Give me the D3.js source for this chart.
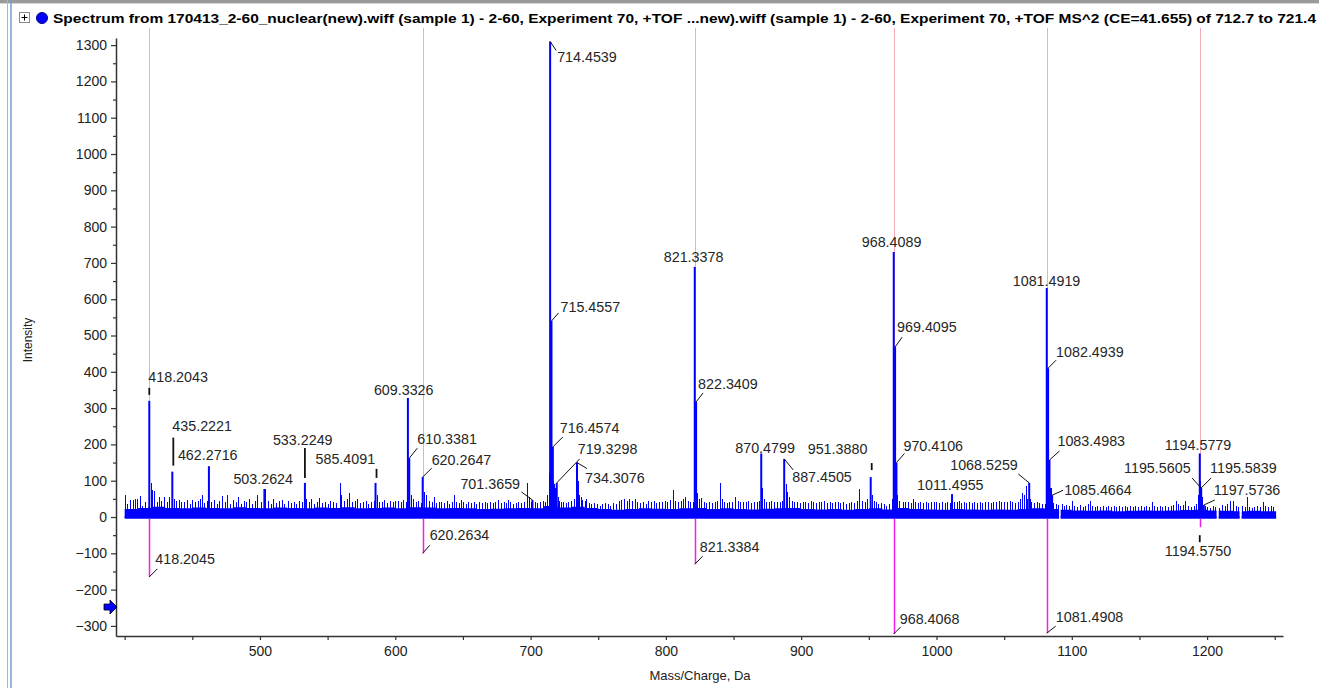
<!DOCTYPE html>
<html lang="en">
<head>
<meta charset="UTF-8" />
<title>Spectrum</title>
<script src="https://d3js.org/d3.v7.min.js"></script>
<style>
  body { margin: 0; background: #fff; }
  svg text { font-family: "Liberation Sans", Arial, sans-serif; }
</style>
</head>
<body>
<svg id="chart" width="1319" height="688"></svg>
<script>
// ---- data ----
let titleText = 'Spectrum from 170413_2-60_nuclear(new).wiff (sample 1) - 2-60, Experiment 70, +TOF ...new).wiff (sample 1) - 2-60, Experiment 70, +TOF MS^2 (CE=41.655) of 712.7 to 721.4'

// labelled peaks of the upper (sample) spectrum
let peakMz = [418.2043, 435.2221, 462.2716, 503.2624, 533.2249, 585.4091, 609.3326, 610.3381, 620.2647, 701.3659,
  714.4539, 715.4557, 716.4574, 719.3298, 734.3076, 821.3378, 822.3409, 870.4799, 887.4505, 951.3880,
  968.4089, 969.4095, 970.4106, 1011.4955, 1068.5259, 1081.4919, 1082.4939, 1083.4983, 1085.4664,
  1194.5779, 1195.5605, 1195.5839, 1197.5736]
let peakInt = [320, 125, 140, 77, 94, 94, 328, 162, 110, 47,
  1310, 540, 193, 94, 150, 689, 317, 175, 160, 110,
  730, 468, 150, 63, 94, 631, 410, 157, 60,
  175, 80, 80, 33]

// mirrored reference peaks (drawn below zero)
let refMz = [418.2045, 620.2634, 821.3384, 968.4068, 1081.4908, 1194.5750]
let refInt = [-165, -100, -130, -322, -320, -28]

// unlabelled small peaks [m/z, intensity]
let noisePeaks = [
  [400.5, 62], [402, 35], [404, 48], [406, 48], [407.5, 50], [409, 50], [411, 58], [413, 30], [415, 40], [417, 28],
  [419.5, 95], [420.5, 75], [422, 72], [424, 40], [425.5, 55], [427, 45], [429, 55], [431, 40], [433, 55], [436.5, 50],
  [438, 45], [440, 48], [442, 40], [444, 42], [446, 48], [448, 35], [450, 48], [452, 40], [454, 45], [456, 50],
  [457.5, 60], [459, 38], [461, 45], [464, 40], [466, 48], [468, 35], [470, 45], [472, 58], [474, 40], [476, 62],
  [478, 35], [480, 48], [482, 40], [484, 55], [486, 35], [488, 45], [490, 40], [492, 50], [494, 35], [496, 45], [498, 60],
  [501, 40], [504, 77], [506, 45], [508, 35], [510, 50], [512, 38], [514, 45], [516, 48], [518, 35], [521, 45],
  [523, 38], [525, 40], [527, 35], [529, 45], [531, 40], [534.2, 50], [536, 40], [538, 50], [540, 35], [542, 42],
  [544, 52], [546, 38], [548, 40], [550, 35], [552, 45], [554, 40], [556, 38], [559, 94], [560, 60], [562, 45],
  [564, 50], [566, 65], [568, 40], [570, 45], [572, 50], [574, 38], [576, 42], [578, 45], [580, 35], [582, 40],
  [584, 45], [586.5, 60], [588, 42], [590, 40], [592, 48], [594, 38], [596, 45], [598, 40], [600, 45],
  [602, 45], [604, 40], [606, 48], [608, 42], [609.9, 100], [611.5, 60], [613, 50], [615, 40], [617, 45], [619, 38],
  [621.5, 70], [623, 60], [625, 45], [627, 40], [628.5, 55], [630, 38], [632, 42], [634, 40], [636, 38], [638, 45],
  [640, 35], [642, 40], [643.5, 62], [645, 40], [647, 38], [648.5, 48], [650, 40], [652, 35], [654, 42], [656, 38],
  [658, 40], [660, 35], [662, 40], [664, 38], [666, 42], [668, 38], [670, 40], [672, 38], [674, 42], [676, 48],
  [678, 38], [680, 40], [682, 38], [683.5, 48], [685, 40], [687, 35], [689, 38], [691, 40], [693, 38], [695, 40],
  [697, 94], [698.5, 55], [700, 40], [703, 42], [705, 38], [707, 40], [709, 45], [711, 42],
  [712.5, 60], [713.6, 120], [714.0, 185], [714.8, 190], [715.0, 188], [715.8, 185], [716.0, 150], [716.8, 100],
  [717.2, 90], [717.8, 80], [718.4, 70], [720, 55], [721, 45], [722.5, 40],
  [724, 40], [726, 38], [728, 42], [730, 45], [732, 50], [733.5, 60], [734.8, 100], [735.5, 60], [737, 55], [738, 48],
  [740, 45], [741, 50], [743, 38], [745, 35], [747, 38], [749, 35], [751, 30], [753, 35], [755, 38], [757, 35],
  [759, 30], [761, 38], [763, 35], [765, 45], [767, 48], [769, 50], [771, 45], [773, 50], [775, 45], [777, 50],
  [779, 42], [781, 38], [783, 40], [785, 35], [787, 45], [789, 40], [791, 45], [793, 38], [795, 42], [797, 40], [799, 45],
  [801, 40], [803, 48], [805, 75], [807, 45], [809, 40], [811, 45], [813, 50], [814.5, 55], [816, 45], [818, 40],
  [820, 42], [823.3, 65], [824.5, 50], [826, 52], [828, 40], [830, 38], [832, 42], [834, 38], [836, 40], [838, 45],
  [840, 95], [841.5, 50], [843, 40], [845, 38], [847, 42], [849, 40], [851, 55], [853, 45], [855, 40], [857, 42],
  [859, 40], [861, 45], [863, 38], [865, 40], [867, 42], [869, 45], [871.3, 80], [872.5, 50], [874, 42], [876, 40],
  [878, 45], [880, 40], [882, 42], [884, 40], [886, 45], [888.5, 90], [889.5, 70], [891, 55], [893, 45], [895, 40],
  [897, 42], [899, 38],
  [901, 40], [903, 42], [905, 38], [907, 45], [909, 40], [911, 38], [913, 42], [915, 40], [917, 45], [919, 38],
  [921, 40], [923, 38], [925, 42], [927, 40], [929, 38], [931, 40], [933, 35], [935, 38], [937, 40], [939, 38],
  [941, 45], [943, 77], [945, 45], [947, 40], [949, 50], [950.5, 60], [952.4, 60], [953.5, 45], [955, 40], [957, 35],
  [959, 38], [961, 35], [963, 30], [965, 35], [967, 50], [970.9, 60], [972.5, 45], [975, 40], [977, 42], [979, 40],
  [981, 38], [982.5, 50], [984, 40], [986, 38], [988, 42], [990, 38], [992, 40], [994, 38], [996, 42], [998, 40],
  [1000, 40], [1002, 38], [1004, 42], [1006, 38], [1008, 40], [1010, 38], [1013, 40], [1015, 42], [1016.5, 45], [1018, 38],
  [1020, 40], [1022, 38], [1024, 40], [1026, 38], [1028, 42], [1030, 38], [1032, 40], [1034, 38], [1036, 42], [1038, 40],
  [1040, 38], [1042, 42], [1044, 40], [1046, 45], [1048, 42], [1050, 40], [1052, 42], [1054, 45], [1056, 40], [1058, 38],
  [1060, 40], [1062, 50], [1063.5, 65], [1065, 60], [1066.3, 85], [1067, 50], [1069, 50], [1070, 40], [1072, 38], [1074, 40],
  [1076, 38], [1078, 35], [1080, 35], [1080.6, 60], [1081.8, 200], [1082.8, 120], [1083.9, 80], [1084.4, 80],
  [1086, 38], [1088, 35], [1090, 32], [1092.5, 35], [1094, 30], [1096, 32], [1098, 30], [1100.5, 45], [1102, 30],
  [1104, 28], [1106, 32], [1108, 28], [1110, 30], [1112, 35], [1113.5, 45], [1115, 30], [1117, 28], [1119, 30], [1121, 28],
  [1123, 30], [1125, 28], [1127, 30], [1129, 28], [1131, 30], [1133, 28], [1135, 30], [1137, 28], [1139, 30], [1141, 28],
  [1143, 30], [1145, 28], [1147, 30], [1149, 28], [1151, 30], [1153, 28], [1155, 30], [1157, 28], [1159, 40], [1161, 30],
  [1163, 28], [1165, 30], [1167, 28], [1169, 30], [1171, 28], [1173, 30], [1175, 32], [1177, 45], [1178.5, 35], [1180, 30],
  [1182, 32], [1184, 45], [1186, 30], [1188, 28], [1190, 30], [1192, 35], [1193.5, 60], [1195, 100], [1196.3, 55], [1198.5, 30],
  [1200, 28], [1202, 25], [1204, 30], [1206, 28], [1209, 25], [1211, 32], [1213, 30], [1215, 35], [1217, 45], [1219, 45],
  [1221, 30], [1223, 28], [1226, 30], [1228, 28], [1229.5, 55], [1231, 28], [1233, 25], [1235, 28], [1237, 30], [1239, 28],
  [1241, 40], [1243, 30], [1245, 28], [1247, 30], [1249, 28]
]

// height of the dense noise band [m/z, intensity]
let noiseFloor = [
  [400, 22], [410, 25], [420, 28], [430, 25], [440, 24], [450, 26], [460, 25], [470, 24], [480, 27], [490, 25],
  [500, 24], [510, 26], [520, 25], [530, 24], [540, 26], [550, 25], [560, 27], [570, 24], [580, 25], [590, 26],
  [600, 24], [610, 27], [620, 26], [630, 24], [640, 25], [650, 24], [660, 22], [670, 23], [680, 24], [690, 25],
  [700, 24], [710, 30], [720, 26], [730, 28], [740, 25], [750, 22], [760, 20], [770, 22], [780, 24], [790, 23],
  [800, 22], [810, 24], [820, 25], [830, 22], [840, 24], [850, 22], [860, 21], [870, 23], [880, 24], [890, 25],
  [900, 22], [910, 21], [920, 22], [930, 20], [940, 22], [950, 24], [960, 21], [970, 25], [980, 22], [990, 21],
  [1000, 20], [1010, 22], [1020, 21], [1030, 20], [1040, 21], [1050, 20], [1060, 22], [1070, 24], [1080, 22], [1090, 20],
  [1100, 18], [1110, 17], [1120, 18], [1130, 16], [1140, 17], [1150, 18], [1160, 17], [1170, 18], [1180, 19], [1190, 20],
  [1200, 18], [1210, 17], [1220, 16], [1230, 17], [1240, 16], [1250, 16]
]
let dataRange = [400, 1251]
let baselineGaps = [[1090.6, 1091.8], [1207, 1208.6], [1224, 1225.6]]

let xTicks = [500, 600, 700, 800, 900, 1000, 1100, 1200]
let yTicks = [-300, -200, -100, 0, 100, 200, 300, 400, 500, 600, 700, 800, 900, 1000, 1100, 1200, 1300]
let markerLevel = -248

// label placement: [dx, dy, leader] in px, relative to the peak tip
let labelLayout = {
  '418.2043': [-1, -24, [0, -13, 0, -6]],
  '435.2221': [0, -46, [1, -34, 1, -6]],
  '462.2716': [-31, -11, null],
  '503.2624': [-31, -10, null],
  '533.2249': [-32, -43, [0, -35, 0, -5]],
  '585.4091': [-60, -24, [1, -14, 1, -5]],
  '609.3326': [-34, -8, null],
  '610.3381': [8, -19, [0, 0, 8, -10]],
  '620.2647': [9, -17, [0, 0, 9, -9]],
  '701.3659': [-72, -16, [0, 0, -11, -8]],
  '714.4539': [7, 15, [0, 0, 6, 9]],
  '715.4557': [9, -14, [0, 0, 7, -8]],
  '716.4574': [7, -19, [0, 0, 10, -10]],
  '719.3298': [21, -34, [0, 0, 23, -24]],
  '734.3076': [8, 15, [0, 0, 10, 6]],
  '821.3378': [-31, -10, null],
  '822.3409': [2, -18, [0, 0, 7, -9]],
  '870.4799': [-26, -6, null],
  '887.4505': [8, 18, [0, 0, 9, 11]],
  '951.3880': [-63, -28, [1, -14, 1, -7]],
  '968.4089': [-32, -10, null],
  '969.4095': [2, -20, [0, 0, 7, -10]],
  '970.4106': [7, -17, [0, 0, 8, -9]],
  '1011.4955': [-35, -9, null],
  '1068.5259': [-79, -18, [0, 0, -11, -9]],
  '1081.4919': [-34, -7, null],
  '1082.4939': [8, -16, [0, 0, 8, -8]],
  '1083.4983': [8, -19, [0, 0, 10, -9]],
  '1085.4664': [12, -5, [0, 0, 11, -5]],
  '1194.5779': [-35, -9, null],
  '1195.5605': [-77, -20, [0, 0, -9, -10]],
  '1195.5839': [9, -20, [0, 0, 10, -10]],
  '1197.5736': [10, -15, [0, 0, 11, -5]],
  '418.2045': [6, -18, [0, 0, 8, -8]],
  '620.2634': [7, -18, [0, 0, 7, -8]],
  '821.3384': [5, -17, [0, 0, 8, -8]],
  '968.4068': [6, -15, [0, 0, 7, -7]],
  '1081.4908': [9, -16, [0, 0, 9, -7]],
  '1194.5750': [-35, 24, [0, 8, 0, 15]]
}

// ---- drawing ----
let width = 1319
let height = 688
let blue = '#0000ff'
let fmt = d3.format('.4f')

let svg = d3.select('#chart')

let x = d3.scaleLinear().domain([393.6, 1256.1]).range([116, 1283])
let y = d3.scaleLinear().domain([-327.8, 1319.6]).range([636, 38])

// window frame
svg.append('rect').attr('x', 0).attr('y', 0).attr('width', width).attr('height', 3).attr('fill', '#9a9a9a')
svg.append('line').attr('x1', 0).attr('x2', width).attr('y1', 3.5).attr('y2', 3.5).attr('stroke', '#d8d8d8')
svg.append('line').attr('x1', 7.5).attr('x2', 7.5).attr('y1', 0).attr('y2', height).attr('stroke', '#b4b4b4')
svg.append('line').attr('x1', 11).attr('x2', 11).attr('y1', 0).attr('y2', height)
  .attr('stroke', '#6f9fd6').attr('stroke-width', 1.5)

// title row
svg.append('rect').attr('x', 19.5).attr('y', 12.5).attr('width', 10).attr('height', 10)
  .attr('fill', '#fff').attr('stroke', '#8a8a8a')
svg.append('path').attr('d', 'M21.5,17.5H27.5M24.5,14.5V20.5').attr('stroke', '#000')
svg.append('circle').attr('cx', 42).attr('cy', 18).attr('r', 5.5).attr('fill', blue).attr('stroke', '#00008a')
svg.append('text')
  .attr('x', 53).attr('y', 23)
  .attr('font-size', 13.5).attr('font-weight', 'bold').attr('fill', '#000')
  .attr('textLength', 1263).attr('lengthAdjust', 'spacingAndGlyphs')
  .text(titleText)

// pink guide lines at the reference peak positions
svg.append('g').selectAll('line').data(refMz).enter().append('line')
  .attr('x1', d => Math.round(x(d)) + 0.5).attr('x2', d => Math.round(x(d)) + 0.5)
  .attr('y1', 28).attr('y2', y(0))
  .attr('stroke', '#f7a9b8').attr('stroke-width', 1)

// noise band, split where the trace has gaps
let cuts = [dataRange[0]]
baselineGaps.forEach(g => { cuts.push(g[0]); cuts.push(g[1]) })
cuts.push(dataRange[1])
let segments = d3.range(0, cuts.length, 2).map(i => [cuts[i], cuts[i + 1]])
let inGap = mz => baselineGaps.some(g => mz >= g[0] && mz <= g[1])

let floorArea = d3.area()
  .curve(d3.curveStepAfter)
  .x(d => x(d[0]))
  .y0(y(0) + 1)
  .y1(d => y(d[1]))

segments.forEach(s => {
  let prev = noiseFloor.filter(d => d[0] <= s[0])
  let startLevel = prev.length ? prev[prev.length - 1][1] : noiseFloor[0][1]
  let pts = noiseFloor.filter(d => d[0] > s[0] && d[0] < s[1])
  let endLevel = pts.length ? pts[pts.length - 1][1] : startLevel
  pts = [[s[0], startLevel]].concat(pts, [[s[1], endLevel]])
  svg.append('path').datum(pts).attr('d', floorArea).attr('fill', blue)
  svg.append('line')
    .attr('x1', x(s[0])).attr('x2', x(s[1]))
    .attr('y1', y(0) + 0.5).attr('y2', y(0) + 0.5)
    .attr('stroke', blue).attr('stroke-width', 2.5)
})

// small peaks
svg.append('g').attr('shape-rendering', 'crispEdges')
  .selectAll('line').data(noisePeaks.filter(d => !inGap(d[0]))).enter().append('line')
  .attr('x1', d => Math.round(x(d[0])) + 0.5).attr('x2', d => Math.round(x(d[0])) + 0.5)
  .attr('y1', y(0)).attr('y2', d => y(d[1]))
  .attr('stroke', blue).attr('stroke-width', 1)

// labelled peaks
let peaks = peakMz.map((d, i) => ({ mz: d, v: peakInt[i] }))
svg.append('g').selectAll('line').data(peaks).enter().append('line')
  .attr('x1', d => x(d.mz)).attr('x2', d => x(d.mz))
  .attr('y1', y(0)).attr('y2', d => y(d.v))
  .attr('stroke', blue).attr('stroke-width', 2)

// mirrored reference peaks
let refs = refMz.map((d, i) => ({ mz: d, v: refInt[i] }))
svg.append('g').selectAll('line').data(refs).enter().append('line')
  .attr('x1', d => Math.round(x(d.mz)) + 0.5).attr('x2', d => Math.round(x(d.mz)) + 0.5)
  .attr('y1', y(0) + 2).attr('y2', d => y(d.v))
  .attr('stroke', '#f01ee6').attr('stroke-width', 1.5)

// axes
let plain = d3.format('d')
let yAxis = svg.append('g')
  .attr('transform', 'translate(116,0)')
  .call(d3.axisLeft(y).tickValues(yTicks).tickFormat(plain).tickSize(5).tickSizeOuter(0).tickPadding(4))
let yMinor = svg.append('g')
  .attr('transform', 'translate(116,0)')
  .call(d3.axisLeft(y).tickValues(yTicks.slice(0, -1).map(d => d + 50)).tickSize(3).tickFormat(''))
yMinor.select('.domain').remove()

let xAxis = svg.append('g')
  .attr('transform', 'translate(0,636)')
  .call(d3.axisBottom(x).tickValues(xTicks).tickFormat(plain).tickSize(4).tickSizeOuter(0).tickPadding(6))
let xMinor = svg.append('g')
  .attr('transform', 'translate(0,636)')
  .call(d3.axisBottom(x).tickValues([400, 450, 550, 650, 750, 850, 950, 1050, 1150, 1250]).tickSize(4).tickFormat(''))
xMinor.select('.domain').remove()

svg.selectAll('.domain').attr('stroke', '#333').attr('stroke-width', 1.5)
svg.selectAll('.tick line').attr('stroke', '#333').attr('stroke-width', 1.2)
svg.selectAll('.tick text')
  .attr('font-size', 14).attr('fill', '#222')
  .attr('font-family', '"Liberation Sans", Arial, sans-serif')

// marker arrow on the intensity axis
let ay = y(markerLevel)
svg.append('path')
  .attr('d', `M104,${ay - 3}H110V${ay - 7}L117,${ay}L110,${ay + 7}V${ay + 3}H104Z`)
  .attr('fill', blue).attr('stroke', '#000').attr('stroke-width', 0.8)

// axis titles
svg.append('text')
  .attr('transform', 'translate(32,340) rotate(-90)')
  .attr('text-anchor', 'middle').attr('font-size', 12).attr('fill', '#222')
  .text('Intensity')
svg.append('text')
  .attr('x', 700).attr('y', 680)
  .attr('text-anchor', 'middle').attr('font-size', 13).attr('fill', '#222')
  .text('Mass/Charge, Da')

// peak labels with their leader lines
let labelled = peaks.concat(refs).map(d => {
  let key = fmt(d.mz)
  return { key: key, px: x(d.mz), py: y(d.v), lay: labelLayout[key] }
})

let labels = svg.append('g')
labelled.forEach(d => {
  let lay = d.lay
  if (lay[2]) {
    labels.append('line')
      .attr('x1', d.px + lay[2][0]).attr('y1', d.py + lay[2][1])
      .attr('x2', d.px + lay[2][2]).attr('y2', d.py + lay[2][3])
      .attr('stroke', '#111').attr('stroke-width', lay[2][0] === lay[2][2] ? 1.8 : 1)
  }
  labels.append('text')
    .attr('x', d.px + lay[0]).attr('y', d.py + lay[1])
    .attr('dy', '0.36em')
    .attr('font-size', 14.3).attr('fill', '#262626')
    .text(d.key)
})
</script>
</body>
</html>
